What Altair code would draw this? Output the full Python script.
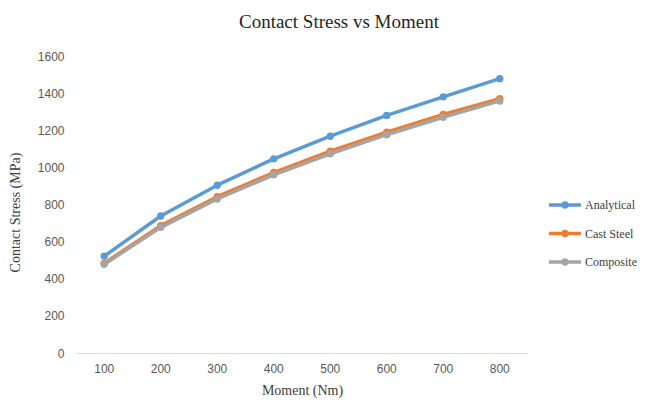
import altair as alt
import pandas as pd

moments = [100, 200, 300, 400, 500, 600, 700, 800]
analytical = [522, 738, 904, 1046, 1168, 1280, 1380, 1478]
cast_steel = [484, 686, 842, 972, 1087, 1190, 1285, 1370]
composite = [478, 677, 830, 960, 1073, 1176, 1270, 1358]
series_names = ["Analytical", "Cast Steel", "Composite"]
series_colors = ["#5B9BD5", "#ED7D31", "#A5A5A5"]
y_ticks = [0, 200, 400, 600, 800, 1000, 1200, 1400, 1600]

rows = []
for name, vals in zip(series_names, [analytical, cast_steel, composite]):
    for m, v in zip(moments, vals):
        rows.append({"Moment": m, "Stress": v, "Series": name})
df = pd.DataFrame(rows)

r = 0.12
sym = (f"M-1,0L1,0M{-r},0A{r},{r},0,1,0,{r},0A{r},{r},0,1,0,{-r},0Z")

color = alt.Color(
    "Series:N",
    scale=alt.Scale(domain=series_names, range=series_colors),
    legend=alt.Legend(
        title=None, orient="none", legendX=471, legendY=131,
        symbolType=sym, symbolSize=1024, symbolStrokeWidth=3.5,
        labelFont="Liberation Serif", labelFontSize=12, labelColor="#404040",
        rowPadding=1.5, labelOffset=2,
    ),
)

x = alt.X(
    "Moment:O",
    scale=alt.Scale(type="band", paddingInner=0, paddingOuter=0),
    axis=alt.Axis(
        title="Moment (Nm)", labelAngle=0, ticks=False, domainColor="#D9D9D9",
        labelFont="Liberation Sans", labelFontSize=12, labelColor="#595959",
        labelPadding=10, titleFont="Liberation Serif", titleFontSize=14,
        titleFontWeight="normal", titleColor="#404040", titlePadding=9,
        grid=False,
    ),
)
y = alt.Y(
    "Stress:Q",
    scale=alt.Scale(domain=[0, 1600], nice=False),
    axis=alt.Axis(
        title="Contact Stress (MPa)", values=y_ticks, format="d", ticks=False,
        domain=False, grid=False, labelFont="Liberation Sans", labelFontSize=12,
        labelColor="#595959", labelPadding=12, titleFont="Liberation Serif",
        titleFontSize=14, titleFontWeight="normal", titleColor="#404040",
        titleX=-61, titleY=156, titleBaseline="middle",
    ),
)

base = alt.Chart(df).encode(x=x, y=y, color=color,
                            order=alt.Order("Series:N"))
lines = base.mark_line(strokeWidth=3.5, strokeCap="round", strokeJoin="round")
points = base.mark_point(filled=True, size=55, opacity=1)

chart = alt.layer(lines, points).properties(
    width=452, height=297,
    title=alt.Title("Contact Stress vs Moment", font="Liberation Serif",
                    fontSize=19, fontWeight="normal", color="#262626",
                    anchor="middle", dx=37, offset=18),
    padding={"left": 68, "top": 48, "right": 111, "bottom": 47},
    autosize=alt.AutoSizeParams(type="none"),
).configure_view(stroke=None)

chart.save("out.html", embed_options={"renderer": "svg", "actions": False})
